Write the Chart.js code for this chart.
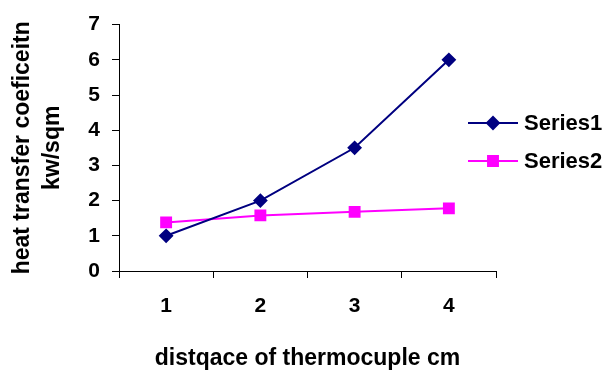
<!DOCTYPE html>
<html>
<head>
<meta charset="utf-8">
<script src="https://cdn.jsdelivr.net/npm/chart.js@4"></script>
<style>
  html, body { margin: 0; padding: 0; background: #fff; }
  #wrap { width: 610px; height: 373px; }
</style>
</head>
<body>
<div id="wrap"><canvas id="myLineChart" width="610" height="373"></canvas></div>
<script>
var categories = ['1', '2', '3', '4'];
var series1 = [1, 2, 3.5, 6];
var series2 = [1.38, 1.58, 1.68, 1.78];
var seriesNames = ['Series1', 'Series2'];
var yTitle = ['heat transfer coeficeitn', 'kw/sqm'];
var xTitle = 'distqace of thermocuple cm';

var FONT = "'Liberation Sans', Arial, sans-serif";

// legend on the right, drawn from the datasets
var sideLegend = {
    id: 'sideLegend',
    afterDraw: function (chart) {
        var c = chart.ctx;
        var rows = [123, 161];
        chart.data.datasets.forEach(function (ds, i) {
            var y = rows[i];
            c.save();
            c.strokeStyle = ds.borderColor;
            c.lineWidth = 2;
            c.beginPath();
            c.moveTo(468, y);
            c.lineTo(518, y);
            c.stroke();
            Chart.helpers.drawPoint(c, {
                pointStyle: ds.pointStyle,
                radius: ds.pointRadius,
                borderWidth: 1
            }, 493, y);
            c.fillStyle = ds.pointBackgroundColor;
            c.fill();
            c.fillStyle = '#000';
            c.font = 'bold 22px ' + FONT;
            c.textBaseline = 'middle';
            c.textAlign = 'left';
            c.fillText(ds.label, 524, y + 1);
            c.restore();
        });
    }
};

var ctx = document.getElementById('myLineChart').getContext('2d');
var myLineChart = new Chart(ctx, {
    type: 'line',
    data: {
        labels: categories,
        datasets: [{
            label: seriesNames[0],
            data: series1,
            borderColor: '#000080',
            backgroundColor: '#000080',
            pointBackgroundColor: '#000080',
            pointBorderColor: '#000080',
            pointStyle: 'rectRot',
            pointRadius: 6,
            borderWidth: 2,
            tension: 0
        }, {
            label: seriesNames[1],
            data: series2,
            borderColor: '#FF00FF',
            backgroundColor: '#FF00FF',
            pointBackgroundColor: '#FF00FF',
            pointBorderColor: '#FF00FF',
            pointStyle: 'rect',
            pointRadius: 7,
            borderWidth: 2,
            tension: 0
        }]
    },
    options: {
        responsive: false,
        animation: false,
        layout: { padding: { top: 22, right: 114, bottom: 0, left: 0 } },
        plugins: { legend: { display: false }, tooltip: { enabled: false } },
        scales: {
            x: {
                offset: true,
                grid: { offset: true, drawOnChartArea: false, drawTicks: true, tickLength: 7, color: '#000' },
                border: { display: true, color: '#000', width: 1 },
                ticks: { color: '#000', padding: 16, font: { family: FONT, size: 21, weight: 'bold' } },
                title: {
                    display: true, text: xTitle, color: '#000',
                    font: { family: FONT, size: 23, weight: 'bold' },
                    padding: { top: 0, bottom: 1 }
                },
                afterFit: function (s) { s.height = 102; }
            },
            y: {
                min: 0,
                max: 7,
                grid: { drawOnChartArea: false, drawTicks: true, tickLength: 7, color: '#000' },
                border: { display: true, color: '#000', width: 1 },
                ticks: { stepSize: 1, color: '#000', padding: 12, font: { family: FONT, size: 21, weight: 'bold' } },
                title: {
                    display: true, text: yTitle, color: '#000',
                    font: { family: FONT, size: 23, weight: 'bold', lineHeight: 1.3 },
                    padding: { top: 8, bottom: 0 }
                },
                afterFit: function (s) { s.width = 119; }
            }
        }
    },
    plugins: [sideLegend]
});
</script>
</body>
</html>
